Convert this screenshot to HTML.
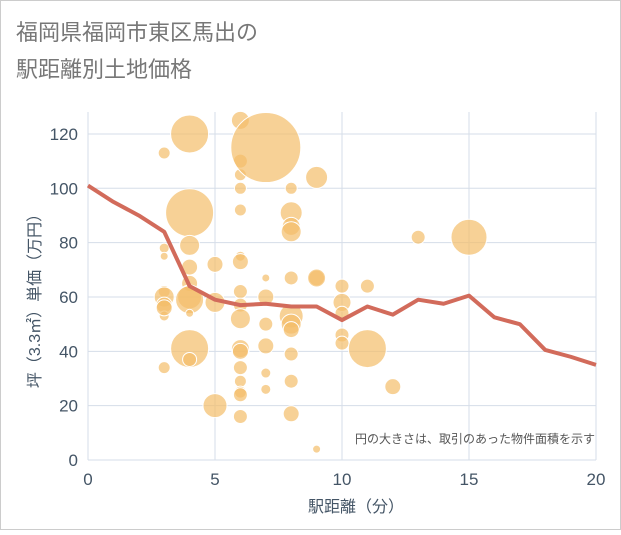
<!DOCTYPE html>
<html><head><meta charset="utf-8"><style>
body{margin:0;background:#fff;}
svg text{font-family:"Liberation Sans","Noto Sans CJK JP",sans-serif;}
</style></head><body>
<svg width="621" height="530" viewBox="0 0 621 530">
<rect x="0.5" y="0.5" width="620" height="529" fill="#fff" stroke="#ccc"/>
<text x="16" y="40" font-size="22" fill="#777">福岡県福岡市東区馬出の</text>
<text x="16" y="77" font-size="22" fill="#777">駅距離別土地価格</text>
<g id="grid"></g>
<g id="bubbles"></g>
<g id="line"></g>
<g id="axes"></g>
<text x="595" y="443" font-size="12" fill="#555" text-anchor="end">円の大きさは、取引のあった物件面積を示す</text>
<text x="356" y="512" font-size="16" fill="#445566" text-anchor="middle">駅距離（分）</text>
<text transform="translate(40,297) rotate(-90)" font-size="16" fill="#445566" text-anchor="middle">坪（3.3㎡）単価（万円）</text>
</svg>
<script>
const xTicks=[0,5,10,15,20];
const yTicks=[0,20,40,60,80,100,120];
const bx=[3,3,3,3,3,3,3,3,3,4,4,4,4,4,4,4,4,4,4,5,5,5,6,6,6,6,6,6,6,6,6,6,6,6,6,6,6,6,6,7,7,7,7,7,7,7,8,8,8,8,8,8,8,8,8,8,8,9,9,9,9,10,10,10,10,10,11,11,12,13,15];
const by=[113,78,75,62,60,57,53,34,56,120,91,79,71,65,60,59,54,41,37,72,58,20,125,110,105,100,92,75,73,62,57,52,41,40,34,29,25,24,16,115,67,60,50,42,32,26,100,91,86,84,67,53,50,48,39,29,17,4,104,67,67,64,58,54,46,43,41,64,27,82,82];
const br=[6,5,4,6,10,8,5,6,8,19,24,10,8,8,12,14,4,19,7,8,10,12,9,7,6,6,6,5,8,7,7,10,9,8,7,6,6,7,7,35,4,8,7,8,5,5,6,11,9,10,7,12,10,8,7,7,8,4,11,8,9,7,9,7,7,7,19,7,8,7,18];
const lx=[0,1,2,3,4,5,6,7,8,9,10,11,12,13,14,15,16,17,18,19,20];
const ly=[101,95,90,84,64,59,57,57.5,56.5,56.5,51.5,56.5,53.5,59,57.5,60.5,52.5,50,40.5,38,35];
const X=v=>88+v*25.4, Y=v=>460-v*2.717;
const NS="http://www.w3.org/2000/svg";
function mk(t,a,p){const e=document.createElementNS(NS,t);for(const k in a)e.setAttribute(k,a[k]);document.getElementById(p).appendChild(e);return e;}
xTicks.forEach(v=>{const l=mk('line',{x1:X(v),x2:X(v),y1:112,y2:460,stroke:'#d5dde8'},'grid');


const t=mk('text',{x:X(v),y:485,'font-size':17,fill:'#445566','text-anchor':'middle'},'axes');t.textContent=v;

});
yTicks.forEach(v=>{const l=mk('line',{x1:88,x2:596,y1:Y(v),y2:Y(v),stroke:'#d5dde8'},'grid');


const t=mk('text',{x:78,y:Y(v)+6,'font-size':17,fill:'#445566','text-anchor':'end'},'axes');t.textContent=v;

});
bx.forEach((v,i)=>{const c=mk('circle',{cx:X(v),cy:Y(by[i]),r:br[i],fill:'#f3bd6a','fill-opacity':0.7,stroke:'#fff','stroke-width':1},'bubbles');

});
const p=mk('polyline',{points:lx.map((v,i)=>X(v)+','+Y(ly[i])).join(' '),fill:'none',stroke:'#d26b5b','stroke-width':4,'stroke-linejoin':'round'},'line');


</script>
</body></html>
